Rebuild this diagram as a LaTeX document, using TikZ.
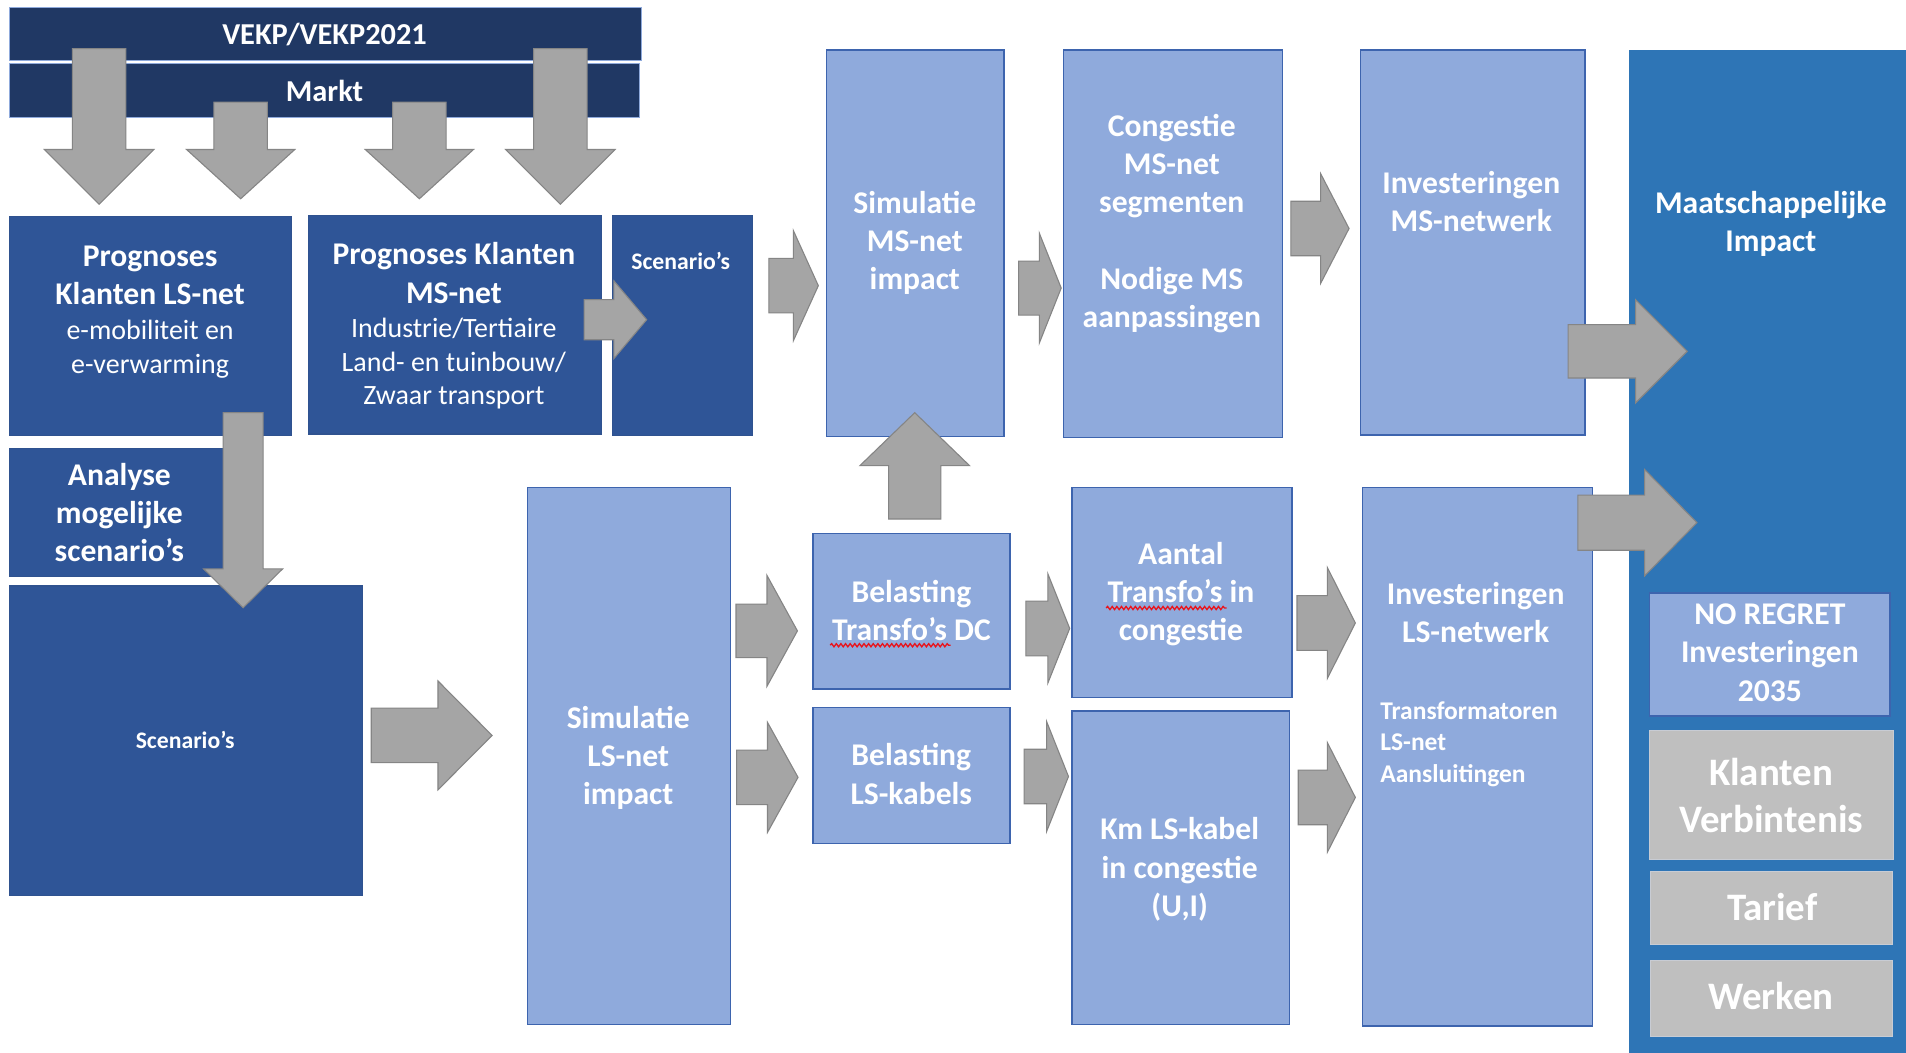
\documentclass[tikz,border=0pt]{standalone}
\usepackage{fontspec}
\setmainfont{Carlito}
\usetikzlibrary{decorations.pathmorphing}
\definecolor{navy}{HTML}{203864}
\definecolor{navyedge}{HTML}{8FAADC}
\definecolor{darkbox}{HTML}{2F5597}
\definecolor{darkedge}{HTML}{2F528F}
\definecolor{lightbox}{HTML}{8FAADC}
\definecolor{lightedge}{HTML}{3D64AE}
\definecolor{panelblue}{HTML}{2E75B6}
\definecolor{arrowgray}{HTML}{A5A5A5}
\definecolor{arrowedge}{HTML}{858585}
\definecolor{greybox}{HTML}{BFBFBF}
\definecolor{greyedge}{HTML}{C8CCD4}
\definecolor{wavered}{HTML}{E8141C}
\newcommand\bx[6]{\node[#2, minimum width={#5-#3}, minimum height={#6-#4}] (#1) at ({(#3+#5)/2},{(#4+#6)/2}) {};}
\newcommand\blockR[6]{\draw[barrow] ({#1},{#4-#5}) -- ({#2},{#4-#5}) -- ({#2},{#4-#6}) -- ({#3},{#4}) -- ({#2},{#4+#6}) -- ({#2},{#4+#5}) -- ({#1},{#4+#5}) -- cycle;}
\newcommand\blockV[6]{\draw[barrow] ({#1-#5},{#2}) -- ({#1-#5},{#3}) -- ({#1-#6},{#3}) -- ({#1},{#4}) -- ({#1+#6},{#3}) -- ({#1+#5},{#3}) -- ({#1+#5},{#2}) -- cycle;}
\newcommand\bigbold{\fontsize{26}{31.5}\selectfont\bfseries}
\begin{document}
\begin{tikzpicture}[x=1pt,y=-1pt,
  base/.style={rectangle, inner sep=0pt, outer sep=0pt},
  bar/.style={base, fill=navy, draw=navyedge, line width=0.8pt},
  dbox/.style={base, fill=darkbox, draw=darkedge, line width=1pt},
  lbox/.style={base, fill=lightbox, draw=lightedge, line width=1.2pt},
  pbox/.style={base, fill=panelblue, draw=panelblue},
  gbox/.style={base, fill=greybox, draw=greyedge, line width=1pt},
  barrow/.style={fill=arrowgray, draw=arrowedge, line width=0.9pt, line join=miter},
  wave/.style={draw=wavered, line width=1.1pt, decorate, decoration={snake, amplitude=1.3pt, segment length=3.8pt}},
  tx/.style={text=white, inner sep=0pt, outer sep=0pt, align=center},
  f25/.style={font=\fontsize{25}{30.5}\selectfont\bfseries},
  f26/.style={font=\bigbold},
  f23/.style={font=\fontsize{23}{27.4}\selectfont},
  f21/.style={font=\fontsize{21}{25.8}\selectfont\bfseries},
  f19/.style={font=\fontsize{19.5}{23.8}\selectfont\bfseries},
  f32/.style={font=\fontsize{32}{38.8}\selectfont\bfseries}
]
\useasboundingbox (0,0) rectangle (1568,866);
\fill[white] (0,0) rectangle (1568,866);

% top bars
\bx{vekp}{bar}{8}{6}{528}{50}
\bx{markt}{bar}{8}{52}{526}{97}

% down arrows from the bars
\blockV{81.5}{40}{123}{168}{22}{45}
\blockV{198}{84}{123}{163.5}{22}{44.5}
\blockV{345}{84}{123}{163.5}{22}{44.5}
\blockV{461}{40}{123}{168}{22}{45}

% boxes
\bx{lsprog}{dbox}{8}{178}{240}{358}
\bx{msprog}{dbox}{254}{177}{495}{357}
\bx{scenA}{dbox}{504}{177}{619}{358}
\bx{analyse}{dbox}{8}{369}{196}{474}
\bx{scenB}{dbox}{8}{482}{298}{737}
\bx{simls}{lbox}{434}{401}{601}{843}
\bx{simms}{lbox}{680}{41}{826}{359}
\bx{beltr}{lbox}{669}{439}{831}{567}
\bx{bells}{lbox}{669}{582}{831}{694}
\bx{cong}{lbox}{875}{41}{1055}{360}
\bx{aantal}{lbox}{882}{401}{1063}{574}
\bx{km}{lbox}{882}{585}{1061}{843}
\bx{invms}{lbox}{1119}{41}{1304}{358}
\bx{invls}{lbox}{1121}{401}{1310}{844}
\bx{panel}{pbox}{1340}{41}{1572}{870}
\bx{noregret}{lbox}{1357}{488}{1555}{589}
\bx{klanten}{gbox}{1357}{601}{1558}{707}
\bx{tarief}{gbox}{1358}{717}{1557}{777}
\bx{werken}{gbox}{1358}{790}{1557}{853}

% block arrows between boxes
\blockV{200}{339.5}{468}{500}{16.5}{32.5}
\blockV{752.5}{427}{383}{339.5}{21.5}{45}
\blockR{480.5}{505}{532}{263}{16.5}{32}
\blockR{632.5}{652.7}{673.2}{235}{22.4}{45.2}
\blockR{838}{855}{873}{237}{22.2}{45.2}
\blockR{1062}{1086.4}{1109.8}{188}{22.4}{45.2}
\blockR{1290}{1345.5}{1388}{289}{22}{42.5}
\blockR{305.4}{360.3}{404.8}{605}{22.4}{44.8}
\blockR{605.5}{631}{656}{519}{22}{45.5}
\blockR{606}{631.4}{656.5}{639.5}{22.4}{45.2}
\blockR{844}{862}{880}{517}{22.5}{45}
\blockR{842.5}{861}{879}{638.8}{22.4}{45.2}
\blockR{1067}{1092}{1115}{512.5}{22.5}{45.5}
\blockR{1068}{1092}{1115}{656}{22.5}{45}
\blockR{1298}{1353}{1396}{430}{22.7}{43.7}

% spell-check underlines under "Transfo's"
\coordinate (wa) at (683,530.8);
\coordinate (wb) at (782,530.8);
\coordinate (wc) at (910,500.2);
\coordinate (wd) at (1009,500.2);
\draw[wave] (wa) -- (wb);
\draw[wave] (wc) -- (wd);

% texts
\node[tx,f25,anchor=base] (t-vekp) at (267,36.4) {VEKP/VEKP2021};
\node[tx,f25,anchor=base] (t-markt) at (267,83.6) {Markt};
\node[tx,f26,anchor=north] (t-lsprog) at (123.5,197.15) {\strut Prognoses\\Klanten LS-net\strut};
\node[tx,f23,anchor=north] (t-lsprog2) at (123.5,260.3) {\strut e-mobiliteit en\\e-verwarming\strut};
\node[tx,f26,anchor=north] (t-msprog) at (373.4,195.75) {\strut Prognoses Klanten\\MS-net\strut};
\node[tx,f23,anchor=north] (t-msprog2) at (373.4,258.8) {\strut Industrie/Tertiaire\\Land- en tuinbouw/\\Zwaar transport\strut};
\node[tx,f19,anchor=base] (t-scenA) at (560,222) {Scenario’s};
\node[tx,f26,anchor=north] (t-analyse) at (98.2,376.95) {\strut Analyse\\mogelijke\\scenario’s\strut};
\node[tx,f19,anchor=base] (t-scenB) at (152.3,615.7) {Scenario’s};
\node[tx,f26,anchor=north] (t-simls) at (516.8,577.05) {\strut Simulatie\\LS-net\\impact\strut};
\node[tx,f26,anchor=north] (t-simms) at (752.6,153.45) {\strut Simulatie\\MS-net\\impact\strut};
\node[tx,f26,anchor=north] (t-cong) at (964,89.85) {\strut Congestie\\MS-net\\segmenten\\[31.5pt]Nodige MS\\aanpassingen\strut};
\node[tx,f26,anchor=north] (t-invms) at (1210.4,136.95) {\strut Investeringen\\MS-netwerk\strut};
\node[tx,f26,anchor=north] (t-panel) at (1456.8,153.45) {\strut Maatschappelijke\\Impact\strut};
\node[tx,f26,anchor=north] (t-beltr) at (749.8,473.25) {\strut Belasting\\Transfo’s DC\strut};
\node[tx,f26,anchor=north] (t-bells) at (749.7,608.05) {\strut Belasting\\LS-kabels\strut};
\node[tx,f26,anchor=north] (t-aantal) at (971.5,441.95) {\strut Aantal\\Transfo’s in\\congestie\strut};
\node[tx,f26,anchor=north] (t-km) at (970.5,668.95) {\strut Km LS-kabel\\in congestie\\(U,I)\strut};
\node[tx,f26,anchor=north] (t-invls) at (1214,474.95) {\strut Investeringen\\LS-netwerk\strut};
\node[tx,f21,anchor=north west,align=left] (t-invls2) at (1135.6,573.94) {\strut Transformatoren\\LS-net\\Aansluitingen\strut};
\node[tx,f26,anchor=north] (t-noregret) at (1456,491.65) {\strut NO REGRET\\Investeringen\\2035\strut};
\node[tx,f32,anchor=north] (t-klanten) at (1457,618.84) {\strut Klanten\\Verbintenis\strut};
\node[tx,f32,anchor=base] (t-tarief) at (1458,757.3) {Tarief};
\node[tx,f32,anchor=base] (t-werken) at (1457,830.5) {Werken};
\end{tikzpicture}
\end{document}
